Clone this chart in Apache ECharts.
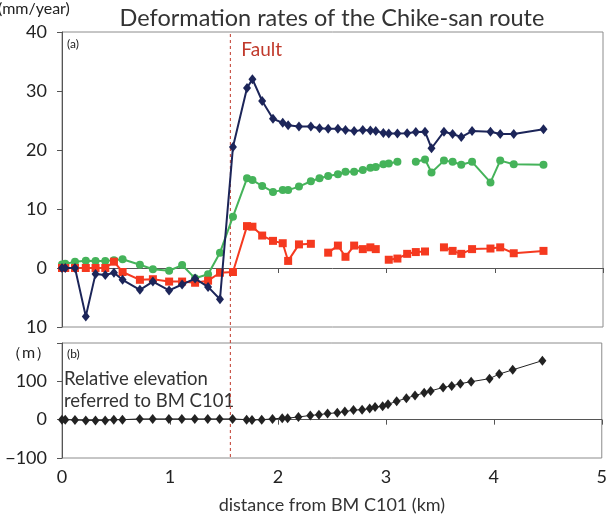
<!DOCTYPE html>
<html><head><meta charset="utf-8">
<script src="https://cdn.jsdelivr.net/npm/echarts@6/dist/echarts.min.js"></script>
<style>html,body{margin:0;padding:0;background:#fff}#c{width:610px;height:515px}</style>
</head><body><div id="c"></div>
<script>
// Station distances from BM C101 (km)
const distKm = [0,0.03,0.12,0.22,0.31,0.40,0.48,0.56,0.72,0.84,0.99,1.11,1.23,1.35,1.46,1.58,1.71,1.76,1.85,1.95,2.04,2.09,2.19,2.30,2.38,2.46,2.55,2.62,2.70,2.78,2.85,2.90,2.97,3.02,3.10,3.19,3.27,3.355,3.415,3.53,3.61,3.69,3.79,3.96,4.05,4.175,4.45];
// Deformation rates (mm/year)
const navyRate = [0,0,0,-8.2,-1.0,-1.2,-0.8,-2.0,-3.7,-2.3,-3.8,-2.8,-1.8,-3.2,-5.3,20.5,30.5,32.0,28.3,25.3,24.6,24.2,24.0,24.0,23.7,23.6,23.6,23.4,23.2,23.4,23.3,23.2,22.9,22.8,22.8,22.85,23.05,23.1,20.3,23.1,22.7,22.2,23.2,23.1,22.7,22.7,23.5];
const greenRate = [0.6,0.7,1.07,1.24,1.19,1.19,1.3,1.47,0.56,-0.22,-0.46,0.5,-1.75,-1.07,2.6,8.7,15.2,14.9,13.9,12.9,13.2,13.2,13.8,14.7,15.2,15.6,15.9,16.3,16.3,16.6,17.0,17.1,17.6,17.7,18.0,null,18.0,18.4,16.2,18.2,18.0,17.5,18.0,14.5,18.2,17.6,17.5];
const redRate = [0,0,0,0,0,0,1.07,-0.68,-2.0,-1.9,-2.3,-2.3,-2.5,-2.15,-0.8,-0.68,7.1,7.0,5.5,4.6,4.2,1.2,4.0,4.1,null,2.6,3.8,1.9,3.8,3.2,3.5,3.2,null,1.4,1.6,2.4,2.7,2.8,null,3.5,2.9,2.4,3.2,3.3,3.5,2.5,2.9];
// Relative elevation (m)
const elevation = [0,0,-1,-2,-2,-2,0,0,2,2,2,2,2,2,2,2,0,-1,0,2,4,4,7,11,13,16,18,21,25,26,29,33,35,40,48,56,63,70,75,84,88,94,99,107,119,130,154];
const faultKm = 1.556;
const xTicks = [0,1,2,3,4,5];

const FONT = 'Lato';
const pair = arr => distKm.map((d,i)=>[d, arr[i]===null ? '-' : arr[i]]);
const chart = echarts.init(document.getElementById('c'));
const axisLineStyle = {color:'#555', width:1};
const option = {
  animation:false,
  grid:[
    {left:62, right:7, top:32, height:295, show:true, borderColor:'#8c8c8c', borderWidth:1},
    {left:62, right:7, top:343, height:115, show:true, borderColor:'#8c8c8c', borderWidth:1}
  ],
  xAxis:[
    {gridIndex:0, type:'value', min:xTicks[0], max:xTicks[xTicks.length-1], interval:1,
     axisLine:{lineStyle:axisLineStyle}, axisTick:{show:true, length:5, lineStyle:axisLineStyle},
     axisLabel:{show:false}, splitLine:{show:false}},
    {gridIndex:1, type:'value', min:xTicks[0], max:xTicks[xTicks.length-1], interval:1,
     axisLine:{lineStyle:axisLineStyle}, axisTick:{show:true, length:5, lineStyle:axisLineStyle},
     axisLabel:{fontFamily:FONT, fontSize:18, color:'#222', margin:10},
     splitLine:{show:false},
     name:'distance from BM C101 (km)', nameLocation:'middle', nameGap:38,
     nameTextStyle:{fontFamily:FONT, fontSize:18, color:'#333'}}
  ],
  yAxis:[
    {gridIndex:0, type:'value', min:-10, max:40, interval:10,
     axisLine:{show:true, lineStyle:axisLineStyle}, axisTick:{show:true, length:5, lineStyle:axisLineStyle},
     axisLabel:{fontFamily:FONT, fontSize:18, color:'#222', margin:15, formatter:v=>String(Math.abs(v))},
     splitLine:{show:false}},
    {gridIndex:1, type:'value', min:-100, max:200, interval:100,
     axisLine:{show:true, lineStyle:axisLineStyle}, axisTick:{show:true, length:5, lineStyle:axisLineStyle},
     axisLabel:{fontFamily:FONT, fontSize:18, color:'#222', margin:15, formatter:v=> v===200 ? '' : (v<0 ? '\u2212'+(-v) : String(v))},
     splitLine:{show:false}}
  ],
  series:[
    {type:'line', xAxisIndex:0, yAxisIndex:0, data:pair(greenRate), symbol:'circle', symbolSize:8,
     lineStyle:{color:'#45b35a', width:2}, itemStyle:{color:'#45b35a'}, connectNulls:false, z:2},
    {type:'line', xAxisIndex:0, yAxisIndex:0, data:pair(redRate), symbol:'rect', symbolSize:8,
     lineStyle:{color:'#f5391f', width:2}, itemStyle:{color:'#f5391f'}, connectNulls:false, z:3},
    {type:'line', xAxisIndex:0, yAxisIndex:0, data:pair(navyRate), symbol:'diamond', symbolSize:[8,10],
     lineStyle:{color:'#1c2559', width:2}, itemStyle:{color:'#1c2559'}, connectNulls:false, z:4},
    {type:'line', xAxisIndex:1, yAxisIndex:1, data:pair(elevation), symbol:'diamond', symbolSize:[8,10],
     lineStyle:{color:'#222', width:1}, itemStyle:{color:'#222'}, z:4}
  ]
};
chart.setOption(option);

const fx = chart.convertToPixel({xAxisIndex:0}, faultKm);
const yTop = chart.convertToPixel({yAxisIndex:0}, 40);
const yBot = chart.convertToPixel({yAxisIndex:1}, -100);
chart.setOption({
  graphic:[
    {type:'line', shape:{x1:fx, y1:yTop+2, x2:fx, y2:yBot}, style:{stroke:'#c0392b', lineWidth:1, lineDash:[3,3]}, z:1},
    {type:'text', x:332, y:18, style:{text:'Deformation rates of the Chike-san route', font:'23.5px '+FONT, fill:'#333', align:'center', verticalAlign:'middle'}},
    {type:'text', x:-2, y:9, style:{text:'(mm/year)', font:'16px '+FONT, fill:'#222', verticalAlign:'middle'}},
    {type:'text', x:67, y:44, style:{text:'(a)', font:'12px '+FONT, fill:'#222', verticalAlign:'middle'}},
    {type:'text', x:fx+11, y:50, style:{text:'Fault', font:'19px '+FONT, fill:'#c0392b', verticalAlign:'middle'}},
    {type:'text', x:6, y:353, style:{text:'（m）', font:'16px '+FONT, fill:'#222', verticalAlign:'middle'}},
    {type:'text', x:67, y:354, style:{text:'(b)', font:'12px '+FONT, fill:'#222', verticalAlign:'middle'}},
    {type:'text', x:64, y:379, style:{text:'Relative elevation', font:'18.5px '+FONT, fill:'#333', verticalAlign:'middle'}},
    {type:'text', x:64, y:401, style:{text:'referred to BM C101', font:'18.5px '+FONT, fill:'#333', verticalAlign:'middle'}}
  ]
});
</script></body></html>
